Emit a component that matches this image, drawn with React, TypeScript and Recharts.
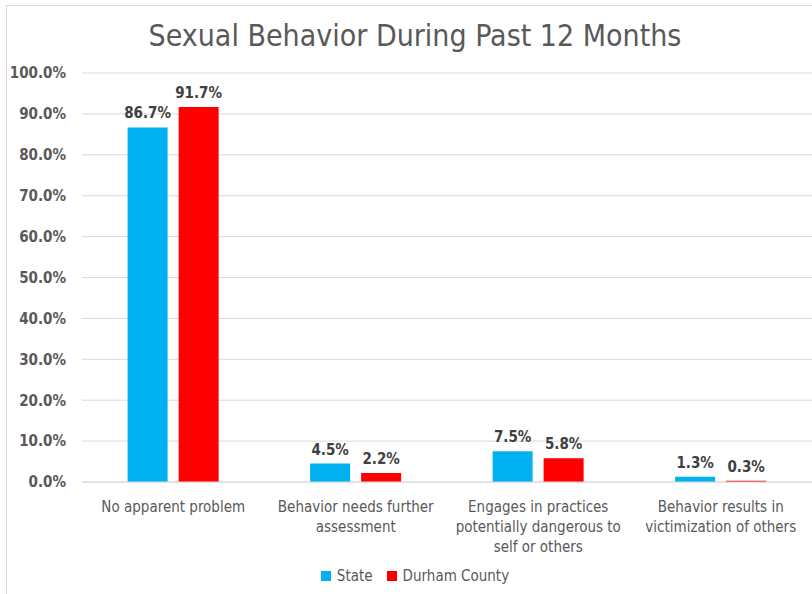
import React from "react";
import { BarChart, Bar, XAxis, YAxis, CartesianGrid, Legend, LabelList } from "recharts";

const STATE = "#00b0f0";
const DURHAM = "#ff0000";
const FONT = '"Liberation Sans Narrow", "DejaVu Sans Condensed", Roboto, sans-serif';

const categories = [
  "No apparent problem",
  "Behavior needs further assessment",
  "Engages in practices potentially dangerous to self or others",
  "Behavior results in victimization of others",
];
const categoryLines = [
  ["No apparent problem"],
  ["Behavior needs further", "assessment"],
  ["Engages in practices", "potentially dangerous to", "self or others"],
  ["Behavior results in", "victimization of others"],
];
const stateValues = [0.867, 0.045, 0.075, 0.013];
const durhamValues = [0.917, 0.022, 0.058, 0.003];
const yTicks = [0, 0.1, 0.2, 0.3, 0.4, 0.5, 0.6, 0.7, 0.8, 0.9, 1.0];

const data = categories.map((c, i) => ({
  name: c,
  State: stateValues[i],
  "Durham County": durhamValues[i],
}));

const pct = (v: number) => `${(v * 100).toFixed(1)}%`;

function CategoryTick(props: any) {
  const { x, y, payload } = props;
  const lines = categoryLines[payload.index] ?? [payload.value];
  return (
    <text x={x} y={y} textAnchor="middle" fill="#595959" fontSize={15} fontFamily={FONT}>
      {lines.map((l: string, i: number) => (
        <tspan key={i} x={x} dy={i === 0 ? 22 : 20}>
          {l}
        </tspan>
      ))}
    </text>
  );
}

function LegendContent() {
  return (
    <div style={{ height: 37, paddingLeft: 18, display: "flex", justifyContent: "center", alignItems: "center", gap: 14, fontFamily: FONT, fontSize: 15, color: "#595959" }}>
      <span style={{ display: "flex", alignItems: "center", gap: 6 }}>
        <span style={{ width: 10, height: 10, background: STATE, display: "inline-block" }} />
        State
      </span>
      <span style={{ display: "flex", alignItems: "center", gap: 6 }}>
        <span style={{ width: 10, height: 10, background: DURHAM, display: "inline-block" }} />
        Durham County
      </span>
    </div>
  );
}

export default function App() {
  return (
    <div style={{ position: "absolute", left: 0, top: 0, width: 812, height: 594, background: "#fff", overflow: "hidden" }}>
      <div style={{ position: "absolute", left: 6, top: 5, width: 820, height: 600, borderLeft: "1px solid #d9d9d9", borderTop: "1px solid #d9d9d9" }} />
      <div style={{ position: "absolute", left: 0, top: 18, width: 830, textAlign: "center", fontFamily: FONT, fontSize: 30, color: "#595959" }}>
        Sexual Behavior During Past 12 Months
      </div>
      <BarChart
        width={812}
        height={594}
        data={data}
        margin={{ top: 73, right: 0, bottom: 0, left: 0 }}
        barCategoryGap="25%"
        barGap={11}
      >
        <CartesianGrid vertical={false} stroke="#d9d9d9" />
        <XAxis
          dataKey="name"
          height={75}
          tickLine={false}
          axisLine={{ stroke: "#d9d9d9" }}
          tick={<CategoryTick />}
          interval={0}
        />
        <YAxis
          width={82}
          domain={[0, 1]}
          ticks={yTicks}
          tickFormatter={pct}
          axisLine={false}
          tickLine={false}
          tickSize={0}
          tickMargin={16}
          tick={{ fill: "#595959", fontSize: 15, fontWeight: "bold", fontFamily: FONT }}
        />
        <Legend verticalAlign="bottom" content={<LegendContent />} />
        <Bar dataKey="State" fill={STATE} isAnimationActive={false}>
          <LabelList dataKey="State" position="top" offset={9} formatter={pct} fill="#404040" fontSize={15} fontWeight="bold" fontFamily={FONT} />
        </Bar>
        <Bar dataKey="Durham County" fill={DURHAM} isAnimationActive={false}>
          <LabelList dataKey="Durham County" position="top" offset={9} formatter={pct} fill="#404040" fontSize={15} fontWeight="bold" fontFamily={FONT} />
        </Bar>
      </BarChart>
    </div>
  );
}
